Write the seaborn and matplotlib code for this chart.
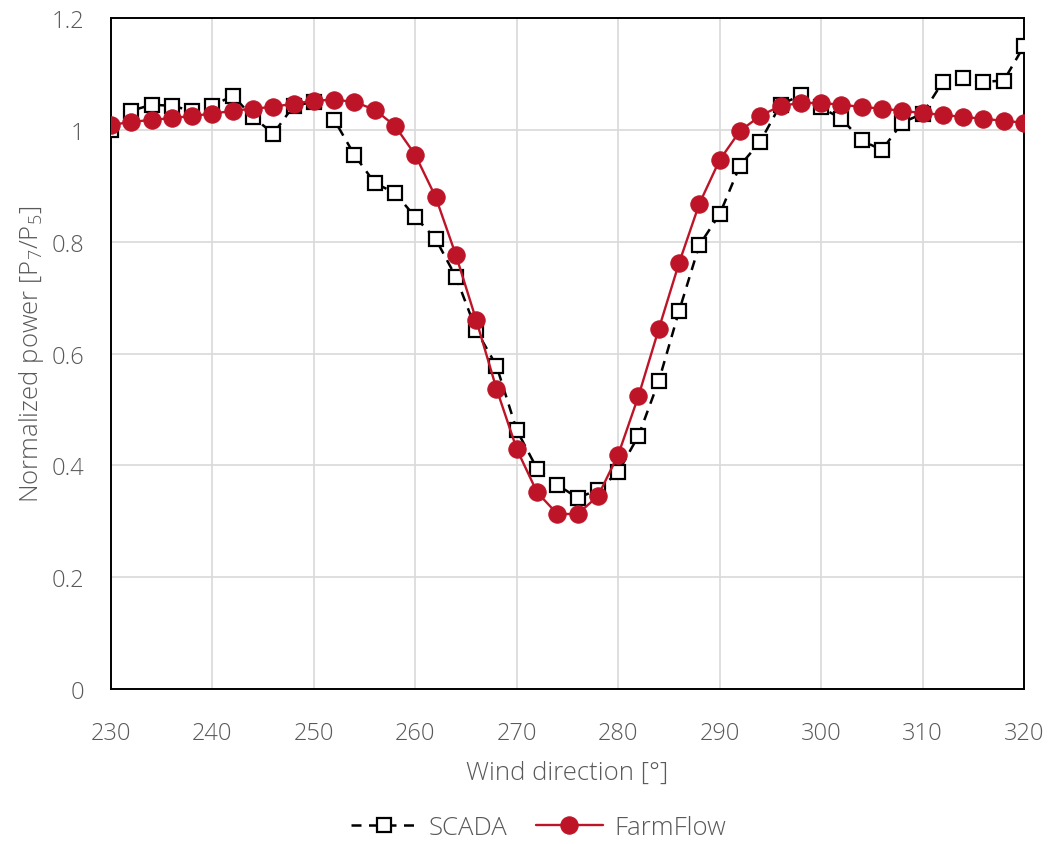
import numpy as np
import pandas as pd
import matplotlib
matplotlib.use("Agg")
import matplotlib.pyplot as plt
import seaborn as sns

# Wind direction bins [deg]
wind_dir = list(range(230, 322, 2))

# Measured power ratio P7/P5
scada = [1.000, 1.034, 1.045, 1.043, 1.034, 1.043, 1.061, 1.023, 0.993, 1.043,
         1.050, 1.018, 0.955, 0.905, 0.887, 0.844, 0.805, 0.737, 0.642, 0.578,
         0.463, 0.394, 0.365, 0.342, 0.356, 0.388, 0.453, 0.551, 0.676, 0.794,
         0.849, 0.936, 0.979, 1.045, 1.062, 1.040, 1.020, 0.981, 0.964, 1.013,
         1.029, 1.086, 1.092, 1.086, 1.088, 1.150]

# Model prediction
farmflow = [1.009, 1.014, 1.018, 1.021, 1.025, 1.029, 1.034, 1.038, 1.041, 1.047,
            1.052, 1.054, 1.050, 1.036, 1.007, 0.955, 0.880, 0.776, 0.660, 0.537,
            0.429, 0.352, 0.313, 0.313, 0.345, 0.419, 0.524, 0.644, 0.762, 0.868,
            0.946, 0.998, 1.025, 1.043, 1.048, 1.048, 1.045, 1.041, 1.038, 1.034,
            1.030, 1.027, 1.023, 1.020, 1.016, 1.013]

x_ticks = [230, 240, 250, 260, 270, 280, 290, 300, 310, 320]
y_ticks = [0, 0.2, 0.4, 0.6, 0.8, 1.0, 1.2]
y_ticklabels = ["0", "0.2", "0.4", "0.6", "0.8", "1", "1.2"]

sns.set_theme(style="white")
plt.rcParams["font.family"] = ["Open Sans", "DejaVu Sans"]
plt.rcParams["mathtext.fontset"] = "custom"
plt.rcParams["mathtext.rm"] = "Open Sans:light"
plt.rcParams["mathtext.default"] = "rm"

grey = "#595959"
red = "#BE1428"
fs_tick = 17
fs_lab = 18.5

fig = plt.figure(figsize=(10.51, 8.45), dpi=100)
ax = fig.add_axes([0.1056, 0.1834, 0.8687, 0.7941])

df_s = pd.DataFrame({"dir": wind_dir, "val": scada})
df_f = pd.DataFrame({"dir": wind_dir, "val": farmflow})

sns.lineplot(data=df_s, x="dir", y="val", ax=ax, color="black", lw=1.8,
             linestyle=(0, (4, 3)), marker="s", markersize=10,
             markerfacecolor="white", markeredgecolor="black", markeredgewidth=1.6,
             label="SCADA", zorder=3)
sns.lineplot(data=df_f, x="dir", y="val", ax=ax, color=red, lw=1.7,
             marker="o", markersize=12.5, markerfacecolor=red, markeredgecolor=red,
             label="FarmFlow", zorder=4)

ax.set_xlim(230, 320)
ax.set_ylim(0, 1.2)
ax.set_xticks(x_ticks)
ax.set_xticklabels([str(t) for t in x_ticks])
ax.set_yticks(y_ticks)
ax.set_yticklabels(y_ticklabels)

ax.grid(True, color="#d9d9d9", lw=1.2)
ax.set_axisbelow(True)
for s in ax.spines.values():
    s.set_color("black")
    s.set_linewidth(1.4)

ax.tick_params(axis="both", labelsize=fs_tick, colors=grey, length=0)
ax.tick_params(axis="x", pad=23)
ax.tick_params(axis="y", pad=19)
for lab in ax.get_xticklabels() + ax.get_yticklabels():
    lab.set_fontweight("light")

ax.set_xlabel("Wind direction [°]", fontsize=fs_lab, color=grey, fontweight="light", labelpad=11)
ax.set_ylabel("Normalized power [P$_7$/P$_5$]", fontsize=fs_lab, color=grey,
              fontweight="light", labelpad=4)

leg = ax.legend(loc="center", bbox_to_anchor=(0.468, -0.207), ncol=2, frameon=False,
                fontsize=fs_lab, handlelength=2.6, columnspacing=1.1, handletextpad=0.45)
for t in leg.get_texts():
    t.set_color(grey)
    t.set_fontweight("light")

fig.savefig("out.png", dpi=100)
